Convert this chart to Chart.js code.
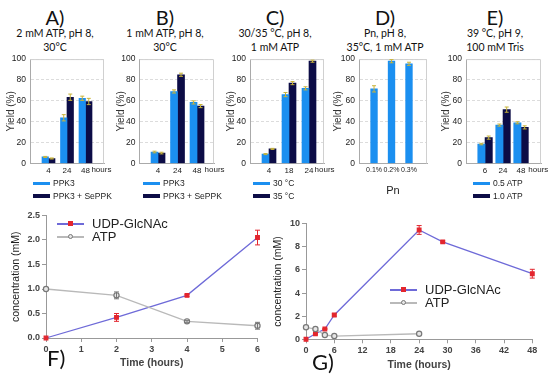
<!DOCTYPE html>
<html>
<head>
<meta charset="utf-8">
<script src="https://cdn.jsdelivr.net/npm/chart.js"></script>
<style>
  body { margin: 0; background: #fff; }
  #wrap { position: relative; width: 550px; height: 375px; overflow: hidden; background: #fff; }
  canvas { position: absolute; }
  .txt { position: absolute; color: #111; text-align: center; white-space: nowrap; }
  .letter { font-family: Lato, 'Liberation Sans', sans-serif; font-size: 20px; line-height: 24px; width: 110px; top: 5px; }
  .sub { font-family: Lato, 'Liberation Sans', sans-serif; font-size: 10.5px; line-height: 14px; width: 110px; top: 26px; }
  .big { font-family: Lato, 'Liberation Sans', sans-serif; font-size: 22px; line-height: 26px; }
  .leg { position: absolute; font-family: 'Liberation Sans', Arial, sans-serif; font-size: 13px; color: #222; height: 14px; line-height: 14px; white-space: nowrap; }
  .leg .ln { position: absolute; top: 6px; height: 1.5px; width: 27px; }
  .leg .mk { position: absolute; top: 4px; width: 5px; height: 5px; box-sizing: border-box; }
  .bleg { position: absolute; font-family: 'Liberation Sans Narrow', 'Liberation Sans', Arial, sans-serif; font-size: 8.5px; color: #222; height: 10px; line-height: 10px; white-space: nowrap; }
  .bleg .bx { position: absolute; left: 0; top: 3.5px; width: 17px; height: 3.5px; }
</style>
</head>
<body>
<div id="wrap">
  <div class="txt letter" style="left:0">A)</div>
  <div class="txt sub" style="left:0">2 mM ATP, pH 8,<br>30°C</div>
  <div class="txt letter" style="left:110px">B)</div>
  <div class="txt sub" style="left:110px">1 mM ATP, pH 8,<br>30°C</div>
  <div class="txt letter" style="left:220px">C)</div>
  <div class="txt sub" style="left:220px">30/35 °C, pH 8,<br>1 mM ATP</div>
  <div class="txt letter" style="left:330px">D)</div>
  <div class="txt sub" style="left:330px">Pn, pH 8,<br>35°C, 1 mM ATP</div>
  <div class="txt letter" style="left:440px">E)</div>
  <div class="txt sub" style="left:440px">39 °C, pH 9,<br>100 mM Tris</div>

  <canvas id="cA" width="116" height="162" style="left:0;top:50px"></canvas>
  <canvas id="cB" width="116" height="162" style="left:110px;top:50px"></canvas>
  <canvas id="cC" width="116" height="162" style="left:220px;top:50px"></canvas>
  <canvas id="cD" width="110" height="162" style="left:330px;top:50px"></canvas>
  <canvas id="cE" width="110" height="162" style="left:440px;top:50px"></canvas>
  <canvas id="cF" width="270" height="175" style="left:0;top:200px"></canvas>
  <canvas id="cG" width="280" height="175" style="left:270px;top:200px"></canvas>

  <div class="txt big" style="left:47px;top:345px">F)</div>
  <div class="txt big" style="left:312px;top:349px">G)</div>
</div>

<script>
// panel A - 2 mM ATP
const hoursA = ['4', '24', '48'];
const ppk3A = [6.3, 43.8, 62.5];
const ppk3ErrA = [0.5, 3, 2];
const seppkA = [4.8, 63.5, 59.4];
const seppkErrA = [0.5, 3, 3];

// panel B - 1 mM ATP
const hoursB = ['4', '24', '48'];
const ppk3B = [11, 69, 58.5];
const ppk3ErrB = [0.8, 1.5, 1.5];
const seppkB = [10, 85, 55];
const seppkErrB = [0.8, 1.5, 1.5];

// panel C - 30 vs 35 C
const hoursC = ['4', '18', '24'];
const temp30C = [9, 66, 72];
const temp30ErrC = [0.5, 2, 1.5];
const temp35C = [14, 77, 98];
const temp35ErrC = [0.5, 1.5, 1];

// panel D - Pn
const pnLabels = ['0.1%', '0.2%', '0.3%'];
const pnYield = [71.5, 98, 95.5];
const pnErr = [3, 1.5, 1.5];

// panel E - 39 C, Tris
const hoursE = ['6', '24', '48'];
const atp05E = [18.6, 36.8, 39];
const atp05ErrE = [0.7, 1, 1];
const atp10E = [24.8, 51.6, 34.6];
const atp10ErrE = [1.5, 2.5, 1.5];

// panel F
const timeF = [0, 2, 4, 6];
const udpF = [0, 0.42, 0.87, 2.05];
const udpErrF = [0, 0.08, 0.02, 0.15];
const atpF = [1.0, 0.87, 0.34, 0.25];
const atpErrF = [0, 0.07, 0.02, 0.07];

// panel G
const timeG = [0, 2, 4, 6, 24, 29, 48];
const udpG = [0, 0.48, 0.89, 2.1, 9.45, 8.42, 5.67];
const udpErrG = [0, 0.05, 0.05, 0.1, 0.38, 0.08, 0.38];
const timeAtpG = [0, 2, 4, 6, 24];
const atpG = [1.04, 0.89, 0.37, 0.28, 0.48];
const atpErrG = [0, 0, 0, 0, 0];

const narrow = "'Liberation Sans Narrow', 'Liberation Sans', Arial, sans-serif";
const plain = "'Liberation Sans', Arial, sans-serif";
const lightBlue = '#1b8ff0';
const navy = '#0c0c46';
const errGold = '#c9b43a';

// draws the error bars from dataset.errors
const errorBars = {
  id: 'errorBars',
  afterDatasetsDraw(chart) {
    const ctx = chart.ctx;
    chart.data.datasets.forEach((ds, i) => {
      if (!ds.errors) return;
      const meta = chart.getDatasetMeta(i);
      const ys = chart.scales[meta.yAxisID];
      ctx.save();
      ctx.strokeStyle = ds.errorColor;
      ctx.lineWidth = 1;
      meta.data.forEach((el, j) => {
        const e = ds.errors[j];
        if (!e) return;
        const y = ds.data[j].y;
        const t = ys.getPixelForValue(y + e), b = ys.getPixelForValue(y - e);
        const c = ds.capW || 2;
        ctx.beginPath();
        ctx.moveTo(el.x, t); ctx.lineTo(el.x, b);
        ctx.moveTo(el.x - c, t); ctx.lineTo(el.x + c, t);
        ctx.moveTo(el.x - c, b); ctx.lineTo(el.x + c, b);
        ctx.stroke();
      });
      ctx.restore();
    });
  }
};

// light frame on top/right of the bar plots
const plotBox = {
  id: 'plotBox',
  beforeDatasetsDraw(chart) {
    const a = chart.chartArea, ctx = chart.ctx;
    ctx.save();
    ctx.strokeStyle = '#d0d0d0';
    ctx.lineWidth = 1;
    ctx.beginPath();
    ctx.moveTo(a.left, a.top + 0.5);
    ctx.lineTo(a.right - 0.5, a.top + 0.5);
    ctx.lineTo(a.right - 0.5, a.bottom);
    ctx.stroke();
    ctx.restore();
  }
};

// the "hours" word sitting on the tick row
const hoursLabel = {
  id: 'hoursLabel',
  afterDraw(chart, args, opts) {
    if (!opts.at) return;
    const xs = chart.scales.x, ctx = chart.ctx;
    ctx.save();
    ctx.font = '8px ' + narrow;
    ctx.fillStyle = '#222';
    ctx.textAlign = 'center';
    ctx.textBaseline = 'top';
    ctx.fillText('hours', xs.getPixelForValue(opts.at), xs.top + 2.5);
    ctx.restore();
  }
};

function xy(xs, ys) {
  return ys.map((v, i) => ({ x: xs[i], y: v }));
}

function barLegend(x, sets) {
  const wrap = document.getElementById('wrap');
  sets.forEach((s, i) => {
    const d = document.createElement('div');
    d.className = 'bleg';
    d.style.left = x + 'px';
    d.style.top = (178 + i * 12.5) + 'px';
    d.style.paddingLeft = '20px';
    d.textContent = s.label;
    const b = document.createElement('div');
    b.className = 'bx';
    b.style.background = s.color;
    d.appendChild(b);
    wrap.appendChild(d);
  });
}

function barPanel(id, p, labels, sets) {
  const idx = labels.map((l, i) => i + 1);
  new Chart(document.getElementById(id), {
    type: 'bar',
    data: {
      datasets: sets.map(s => ({
        label: s.label,
        data: xy(idx, s.values),
        errors: s.errors,
        errorColor: errGold,
        backgroundColor: s.color,
        barThickness: p.barW
      }))
    },
    options: {
      responsive: false,
      animation: false,
      layout: { padding: { top: 7.5, right: p.padR, bottom: p.padB, left: 0 } },
      plugins: {
        legend: { display: false },
        tooltip: { enabled: false },
        hoursLabel: { at: p.hoursAt }
      },
      scales: {
        x: {
          type: 'linear',
          min: p.xMin,
          max: p.xMax,
          offset: false,
          grid: { display: false, drawTicks: false, tickLength: 0 },
          border: { color: '#aaa' },
          afterBuildTicks: s => { s.ticks = idx.map(v => ({ value: v })); },
          ticks: {
            autoSkip: false, maxRotation: 0, padding: 2.5, color: '#222',
            font: { family: narrow, size: p.tickSize || 8 },
            callback: (v, i) => labels[i]
          },
          title: {
            display: !!p.xTitle, text: p.xTitle, color: '#222',
            font: { family: plain, size: 11 }, padding: { top: 0, bottom: 3.5 }
          },
          afterFit: s => { s.height = p.xH; }
        },
        y: {
          min: 0,
          max: 100,
          ticks: { stepSize: 20, padding: 4, color: '#222', font: { family: narrow, size: 8.5 } },
          grid: { color: '#dcdcdc', drawTicks: false },
          border: { color: '#aaa', dash: [3, 2] },
          title: {
            display: true, text: 'Yield (%)', color: '#333',
            font: { family: plain, size: 10, lineHeight: 1.2 }, padding: { top: p.titleX, bottom: 0 }
          },
          afterFit: s => { s.width = p.axisW; }
        }
      }
    },
    plugins: [plotBox, errorBars, hoursLabel]
  });
  if (sets.length > 1) barLegend(p.legX, sets);
}

barPanel('cA', { axisW: 30, padR: 12, padB: 34.5, xMin: 0, xMax: 4.0, hoursAt: 3.86, barW: 6.5, xH: 14, titleX: 5.5, legX: 33 },
  hoursA, [
    { label: 'PPK3', values: ppk3A, errors: ppk3ErrA, color: lightBlue },
    { label: 'PPK3 + SePPK', values: seppkA, errors: seppkErrA, color: navy }
  ]);
barPanel('cB', { axisW: 29.5, padR: 12, padB: 34.5, xMin: 0.05, xMax: 3.87, hoursAt: 3.9, barW: 7, xH: 14, titleX: 5.5, legX: 143 },
  hoursB, [
    { label: 'PPK3', values: ppk3B, errors: ppk3ErrB, color: lightBlue },
    { label: 'PPK3 + SePPK', values: seppkB, errors: seppkErrB, color: navy }
  ]);
barPanel('cC', { axisW: 30, padR: 12, padB: 34.5, xMin: 0.05, xMax: 3.75, hoursAt: 3.78, barW: 7, xH: 14, titleX: 5.5, legX: 253 },
  hoursC, [
    { label: '30 °C', values: temp30C, errors: temp30ErrC, color: lightBlue },
    { label: '35 °C', values: temp35C, errors: temp35ErrC, color: navy }
  ]);
barPanel('cD', { axisW: 29, padR: 13, padB: 10.5, xMin: 0.14, xMax: 4.03, hoursAt: null, barW: 6.7, xH: 38, titleX: 2, xTitle: 'Pn', tickSize: 7 },
  pnLabels, [
    { label: 'Pn', values: pnYield, errors: pnErr, color: lightBlue }
  ]);
barPanel('cE', { axisW: 26, padR: 9, padB: 34.5, xMin: -0.06, xMax: 4.11, hoursAt: 3.96, barW: 7.3, xH: 14, titleX: 0, legX: 473 },
  hoursE, [
    { label: '0.5 ATP', values: atp05E, errors: atp05ErrE, color: lightBlue },
    { label: '1.0 ATP', values: atp10E, errors: atp10ErrE, color: navy }
  ]);

function linePanel(id, p, sets) {
  new Chart(document.getElementById(id), {
    type: 'line',
    data: {
      datasets: sets.map(s => ({
        label: s.label,
        data: xy(s.x, s.y),
        errors: s.errors,
        errorColor: s.errColor,
        capW: 2.5,
        borderColor: s.line,
        borderWidth: 1.3,
        pointStyle: s.shape,
        pointRadius: 2.6,
        pointBackgroundColor: s.fill,
        pointBorderColor: s.edge,
        pointBorderWidth: 1.2,
        clip: false
      }))
    },
    options: {
      responsive: false,
      animation: false,
      layout: { padding: { top: p.padT, right: p.padR, bottom: 0, left: 0 } },
      plugins: { legend: { display: false }, tooltip: { enabled: false } },
      scales: {
        x: {
          type: 'linear', min: 0, max: p.xMax,
          grid: { drawOnChartArea: false, tickLength: 4, color: '#999' },
          border: { color: '#999' },
          ticks: { stepSize: p.xStep, padding: 2, color: '#444', font: { family: plain, size: 9, weight: 'bold' } },
          title: {
            display: true, text: 'Time (hours)', color: '#444',
            font: { family: plain, size: 10.5, weight: 'bold' }, padding: { top: 0, bottom: p.titleB }
          },
          afterFit: s => { s.height = p.xH; }
        },
        y: {
          min: 0, max: p.yMax,
          grid: { drawOnChartArea: false, tickLength: 4, color: '#999' },
          border: { color: '#999' },
          ticks: {
            stepSize: p.yStep, padding: 2, color: '#444', font: { family: plain, size: 9, weight: 'bold' },
            callback: v => v.toFixed(p.dec)
          },
          title: {
            display: true, text: 'concentration (mM)', color: '#222',
            font: { family: narrow, size: 10.5, lineHeight: 1.2 }, padding: { top: p.titleX, bottom: 0 }
          },
          afterFit: s => { s.width = p.axisW; }
        }
      }
    },
    plugins: [errorBars]
  });
}

const udpStyle = { label: 'UDP-GlcNAc', line: '#6e6ad8', shape: 'rect', fill: '#e3262e', edge: '#e3262e', errColor: '#e3262e' };
const atpStyle = { label: 'ATP', line: '#b9b9b9', shape: 'circle', fill: '#e6e6e6', edge: '#777', errColor: '#777' };

linePanel('cF', { axisW: 46, padT: 15.5, padR: 12.5, xMax: 6, xStep: 1, yMax: 2.5, yStep: 0.5, dec: 1, xH: 37, titleB: 5.7, titleX: 10 }, [
  Object.assign({ x: timeF, y: atpF, errors: atpErrF }, atpStyle),
  Object.assign({ x: timeF, y: udpF, errors: udpErrF }, udpStyle)
]);
linePanel('cG', { axisW: 36, padT: 23.6, padR: 17.7, xMax: 48, xStep: 6, yMax: 10, yStep: 2, dec: 0, xH: 35.7, titleB: 3.7, titleX: 2 }, [
  Object.assign({ x: timeAtpG, y: atpG, errors: atpErrG }, atpStyle),
  Object.assign({ x: timeG, y: udpG, errors: udpErrG }, udpStyle)
]);

// legends of the two line plots
function lineLegend(x, y, items) {
  const wrap = document.getElementById('wrap');
  items.forEach((s, i) => {
    const d = document.createElement('div');
    d.className = 'leg';
    d.style.left = x + 'px';
    d.style.top = (y + i * 13) + 'px';
    d.style.paddingLeft = '35px';
    d.textContent = s.label;
    const ln = document.createElement('div');
    ln.className = 'ln';
    ln.style.left = '0px';
    ln.style.background = s.line;
    const mk = document.createElement('div');
    mk.className = 'mk';
    mk.style.left = '11px';
    mk.style.background = s.fill;
    mk.style.border = '1.2px solid ' + s.edge;
    if (s.shape === 'circle') mk.style.borderRadius = '50%';
    d.appendChild(ln);
    d.appendChild(mk);
    wrap.appendChild(d);
  });
}
lineLegend(57, 217, [udpStyle, atpStyle]);
lineLegend(390, 283, [udpStyle, atpStyle]);
</script>
</body>
</html>
